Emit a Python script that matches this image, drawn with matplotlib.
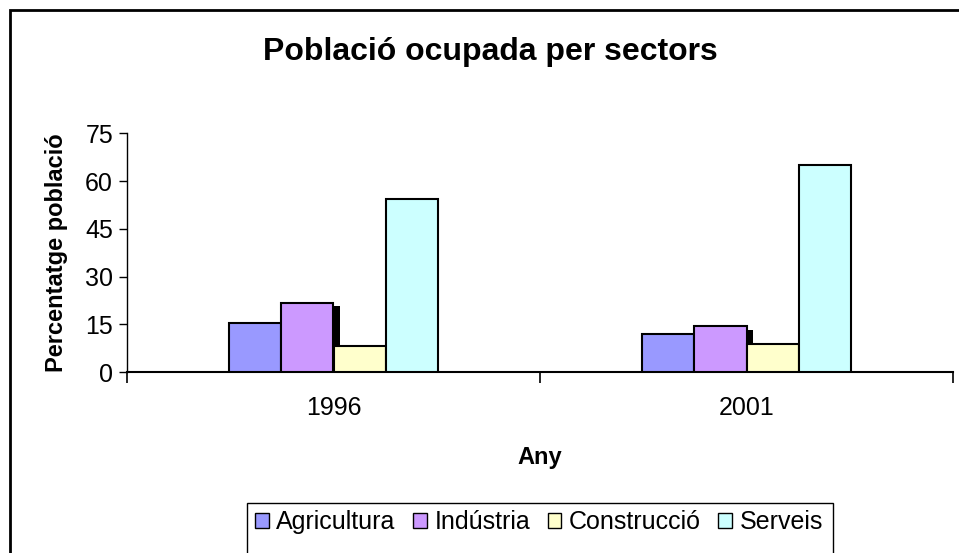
import numpy as np
import matplotlib
matplotlib.use("Agg")
import matplotlib.pyplot as plt
from matplotlib.patches import Rectangle

plt.rcParams["font.family"] = ["Liberation Sans", "DejaVu Sans"]

YEARS = ["1996", "2001"]
SECTORS = ["Agricultura", "Indústria", "Construcció", "Serveis"]
AGRICULTURA = [15.5, 12.0]
INDUSTRIA = [21.8, 14.5]
CONSTRUCCIO = [8.2, 8.9]
SERVEIS = [54.4, 65.2]
SHADOW = [20.7, 13.2]   # dark artefact drawn behind Construcció
COLORS = ["#9999FF", "#CC99FF", "#FFFFCC", "#CCFFFF"]
YTICKS = [0, 15, 30, 45, 60, 75]

W, H = 959, 553
fig = plt.figure(figsize=(W / 100, H / 100), dpi=100)
# chart frame: only its top and left edges fall inside the picture
fig.patches.append(Rectangle((10 / W, -0.1), 1.2, 1 - 10 / H + 0.1,
                             transform=fig.transFigure, fill=False,
                             edgecolor="black", linewidth=2.0))
# legend box, cut off by the bottom of the picture
fig.patches.append(Rectangle((247 / W, -0.1), (833 - 247) / W, 0.1 + 1 - 503 / H,
                             transform=fig.transFigure, fill=False,
                             edgecolor="black", linewidth=1.0))

ax = fig.add_axes([127 / W, 1 - 372.3 / H, 826 / W, 239 / H])
series = [AGRICULTURA, INDUSTRIA, CONSTRUCCIO, SERVEIS]
centers = np.arange(len(YEARS)) + 0.5
w = 0.126
for i, (vals, col, name) in enumerate(zip(series, COLORS, SECTORS)):
    ax.bar(centers + (i - 1.5) * w, vals, width=w, color=col,
           edgecolor="black", linewidth=1.5, label=name, zorder=3)
# narrow black shadow just right of Indústria
ax.bar(centers + 0.0075, SHADOW, width=0.015, color="black", zorder=2)

ax.set_xlim(0, 2)
ax.set_ylim(0, 75)
ax.set_yticks(YTICKS)
ax.set_xticks([0, 1, 2])
ax.set_xticklabels([])
ax.set_xticks(centers, minor=True)
ax.set_xticklabels(YEARS, minor=True)
ax.tick_params(axis="x", which="minor", length=0, pad=17, labelsize=18)
ax.tick_params(axis="x", which="major", length=8, width=1.2, direction="out")
ax.tick_params(axis="y", length=6, width=1.0, labelsize=18, pad=4)
for s in ["top", "right"]:
    ax.spines[s].set_visible(False)
ax.spines["left"].set_linewidth(1.0)
ax.spines["bottom"].set_linewidth(1.5)

ax.set_ylabel("Percentatge població", fontsize=17, fontweight="bold", labelpad=12)
ax.set_xlabel("Any", fontsize=17, fontweight="bold", labelpad=19)
fig.text(490 / W, 1 - 52 / H, "Població ocupada per sectors", ha="center",
         va="center", fontsize=23, fontweight="bold")

leg = ax.legend(loc="upper left", bbox_to_anchor=(250 / W, 1 - 505 / H),
                bbox_transform=fig.transFigure, ncol=4, fontsize=18,
                frameon=False, handlelength=0.55, handleheight=0.55,
                handletextpad=0.3, columnspacing=0.7,
                borderpad=0.2, borderaxespad=0)
for h in leg.legend_handles:
    h.set_linewidth(1.0)

fig.savefig("out.png", dpi=100)
